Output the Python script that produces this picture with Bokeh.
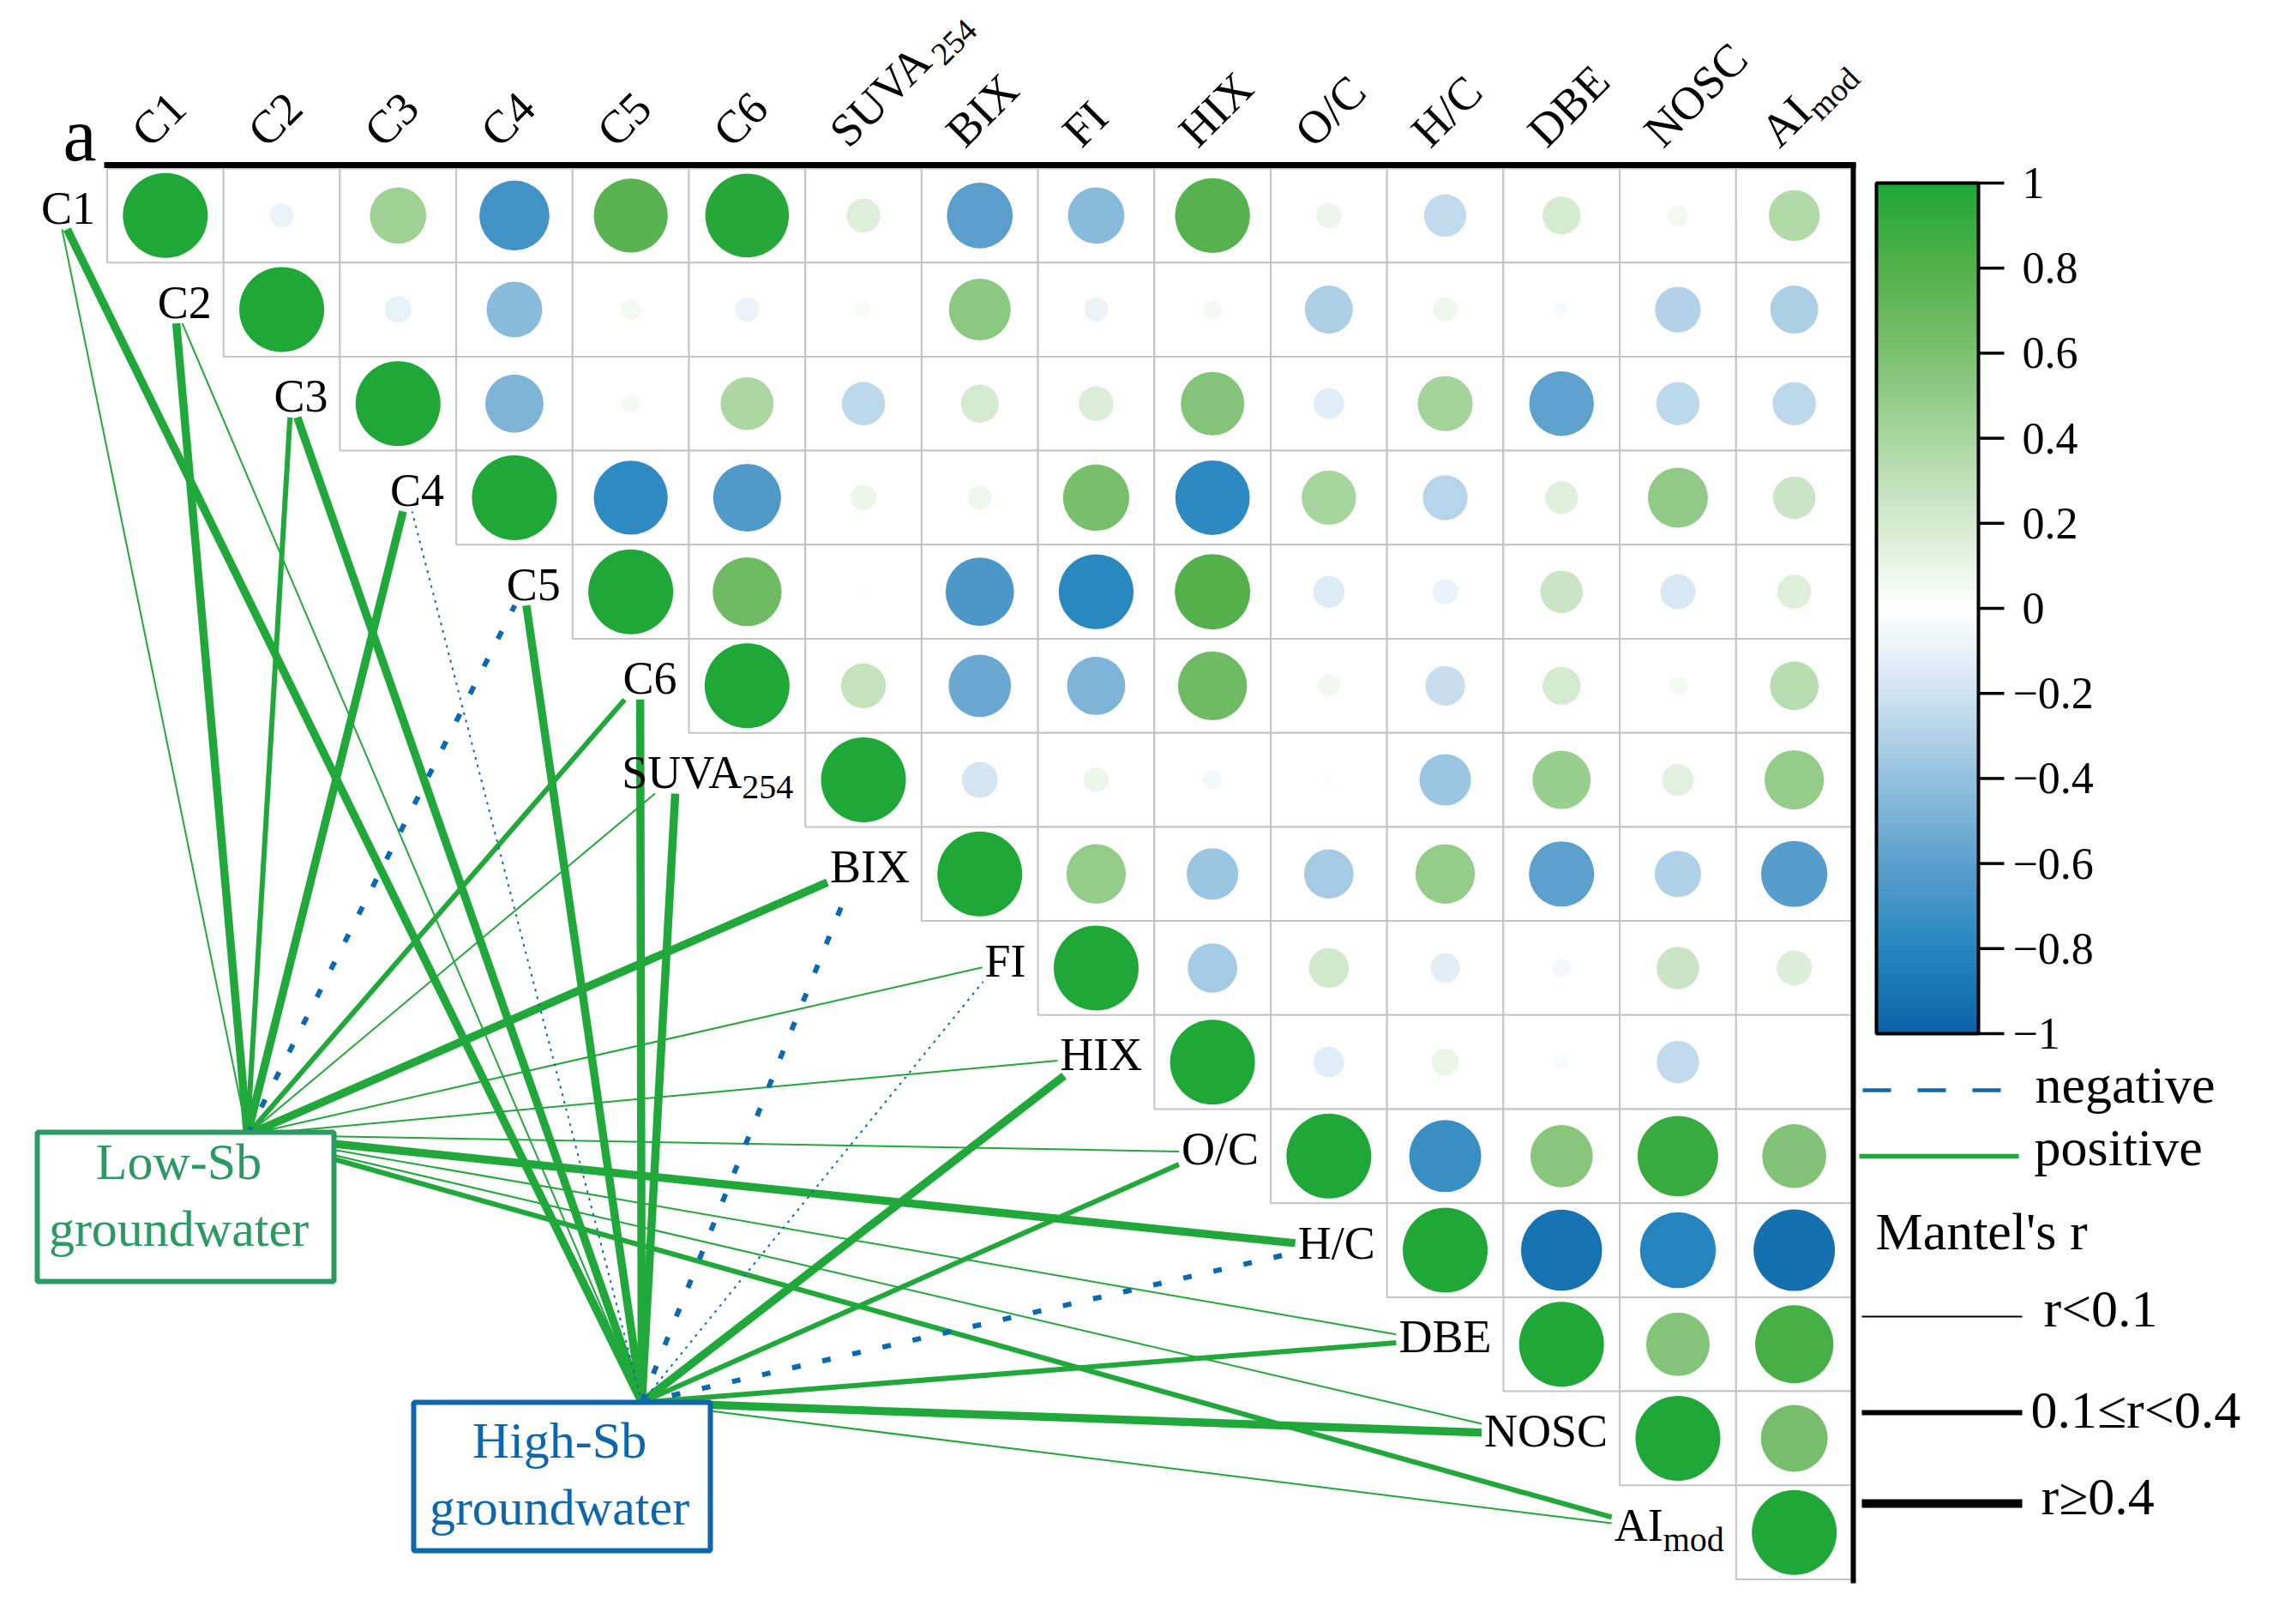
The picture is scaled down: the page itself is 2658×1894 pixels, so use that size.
import math
import numpy as np
from bokeh.plotting import figure
from bokeh.models import Range1d, ColumnDataSource, LinearColorMapper
from bokeh.embed import file_html
from bokeh.resources import INLINE
from bokeh.core.properties import value

# ---------------- data ----------------
variables = ["C1", "C2", "C3", "C4", "C5", "C6", "SUVA", "BIX", "FI", "HIX",
             "O/C", "H/C", "DBE", "NOSC", "AI"]
subscripts = ["", "", "", "", "", "", "254", "", "", "", "", "", "", "", "mod"]

# upper triangle of the correlation matrix, row by row (from the diagonal to AImod)
r_C1 = [1.00, -0.08, 0.44, -0.68, 0.76, 0.97, 0.16, -0.60, -0.44, 0.78, 0.09, -0.25, 0.20, 0.06, 0.36]
r_C2 = [1.00, -0.10, -0.43, 0.06, -0.08, 0.04, 0.53, -0.08, 0.05, -0.32, 0.08, -0.03, -0.29, -0.32]
r_C3 = [1.00, -0.47, 0.05, 0.39, -0.26, 0.20, 0.17, 0.56, -0.13, 0.42, -0.58, -0.26, -0.26]
r_C4 = [1.00, -0.76, -0.64, 0.09, 0.08, 0.61, -0.77, 0.41, -0.28, 0.15, 0.50, 0.25]
r_C5 = [1.00, 0.66, 0.01, -0.65, -0.78, 0.79, -0.14, -0.09, 0.25, -0.17, 0.16]
r_C6 = [1.00, 0.28, -0.54, -0.47, 0.66, 0.07, -0.22, 0.20, 0.05, 0.33]
r_SUVA = [1.00, -0.18, 0.09, -0.05, -0.02, -0.37, 0.47, 0.14, 0.49]
r_BIX = [1.00, 0.49, -0.37, -0.34, 0.49, -0.59, -0.30, -0.61]
r_FI = [1.00, -0.34, 0.22, -0.12, -0.05, 0.25, 0.17]
r_HIX = [1.00, -0.13, 0.10, -0.03, -0.25, 0.005]
r_OC = [1.00, -0.72, 0.54, 0.90, 0.57]
r_HC = [1.00, -0.91, -0.80, -0.92]
r_DBE = [1.00, 0.56, 0.85]
r_NOSC = [1.00, 0.62]
r_AI = [1.00]

# Mantel's r of each variable with the two groundwater groups
mantel_low = [0.06, 0.48, 0.28, 0.45, -0.25, 0.31, 0.05, 0.52, 0.04, 0.07, 0.06, 0.58, 0.05, 0.08, 0.33]
mantel_high = [0.46, 0.05, 0.47, -0.04, 0.44, 0.49, 0.50, -0.30, -0.03, 0.46, 0.33, -0.32, 0.35, 0.42, 0.06]

cbar_ticks = [1.0, 0.8, 0.6, 0.4, 0.2, 0.0, -0.2, -0.4, -0.6, -0.8, -1.0]
cbar_labels = ["1", "0.8", "0.6", "0.4", "0.2", "0", "\u22120.2", "\u22120.4", "\u22120.6", "\u22120.8", "\u22121"]
group_names = [("Low-Sb", "groundwater"), ("High-Sb", "groundwater")]
sign_names = ["negative", "positive"]
class_names = ["r<0.1", "0.1\u2264r<0.4", "r\u22650.4"]

rows = [r_C1, r_C2, r_C3, r_C4, r_C5, r_C6, r_SUVA, r_BIX, r_FI, r_HIX, r_OC, r_HC, r_DBE, r_NOSC, r_AI]

# ---------------- styling / layout ----------------
W, H = 2650, 1890
CW, RH = 135.7, 109.7        # cell size in px
GX0, GY0 = 124.5, 196.0      # grid origin (page px)
FONT = "Liberation Serif"
GREEN = "#21a83a"
BLUE = "#0c69ad"
LOW_C = "#2a9a62"
HIGH_C = "#0d67ad"
GRID_C = "#c4c4c4"
MID = 0.34                   # baseline -> middle shift, in em

def px_x(X):
    return (X - GX0) / CW

def px_y(Y):
    return (Y - GY0) / RH

stop_v = [-1.0, -0.8, -0.6, -0.4, -0.2, 0.0, 0.2, 0.4, 0.6, 0.8, 1.0]
stop_c = ["#0b62a5", "#2586bf", "#5a9fcc", "#93c1df", "#cfe2f1", "#ffffff",
          "#d5ebd0", "#a9d6a0", "#7bc06f", "#52b04a", "#1fa737"]

def hex2rgb(h):
    return [int(h[k:k + 2], 16) for k in (1, 3, 5)]

stop_rgb = np.array([hex2rgb(c) for c in stop_c], dtype=float)

def interp_color(v):
    rgb = [np.interp(v, stop_v, stop_rgb[:, k]) for k in range(3)]
    return "#%02x%02x%02x" % tuple(int(round(c)) for c in rgb)

palette = [interp_color(t) for t in np.linspace(-1, 1, 256)]
mapper = LinearColorMapper(palette=palette, low=-1, high=1)

ADV = {'C': 667, '1': 500, '2': 500, '3': 500, '4': 500, '5': 500, '6': 500,
       'S': 556, 'U': 722, 'V': 722, 'A': 722, 'B': 667, 'I': 333, 'X': 722,
       'F': 556, 'H': 722, 'O': 722, '/': 278, 'D': 722, 'E': 611, 'N': 722,
       'm': 778, 'o': 500, 'd': 500}

def tw(s, fs):
    return sum(ADV.get(c, 500) for c in s) * fs / 1000.0

FS_ROW, FS_SUB, FS_COL, FS_COLSUB = 54, 40, 54, 38

p = figure(width=W, height=H,
           x_range=Range1d(px_x(0), px_x(W)),
           y_range=Range1d(px_y(H), px_y(0)),
           x_axis_location=None, y_axis_location=None,
           output_backend="svg", toolbar_location=None, min_border=0)
p.outline_line_color = None
p.grid.visible = False
p.background_fill_color = "white"

def put_text(xs, ys_base, texts, fs, align="left", color="black", angle=0.0):
    """Place text whose alphabetic baseline is at ys_base (page px), using a middle anchor."""
    a = math.radians(angle)
    ux, uy = -math.sin(a), -math.cos(a)   # screen 'up' direction of the rotated text
    sx = [x + MID * fs * ux for x in xs]
    sy = [y + MID * fs * uy for y in ys_base]
    p.text(x=[px_x(v) for v in sx], y=[px_y(v) for v in sy], text=list(texts),
           angle=angle, angle_units="deg", text_font=value(FONT),
           text_font_size="%dpx" % fs, text_align=align, text_baseline="middle",
           text_color=color)

n = len(variables)

# ---------------- Mantel links ----------------
LOW_ANCHOR = (288.0, 1323.0)
HIGH_ANCHOR = (748.0, 1635.0)

def label_box(i):
    right = GX0 + i * CW - 14
    base = GY0 + (i + 0.5) * RH + 10
    w = tw(variables[i], FS_ROW) + tw(subscripts[i], FS_SUB)
    return right - w - 3, right, base - 0.66 * FS_ROW, base + 6

def endpoint(i, anchor):
    x0, x1, y0, y1 = label_box(i)
    cx = x0 + 0.35 * (x1 - x0)
    cy = 0.5 * (y0 + y1)
    dxv, dyv = anchor[0] - cx, anchor[1] - cy
    ts = []
    if dxv != 0:
        ts.append(((x0 if dxv < 0 else x1) - cx) / dxv)
    if dyv != 0:
        ts.append(((y1 if dyv > 0 else y0) - cy) / dyv)
    t = min(tt for tt in ts if tt > 0)
    return cx + t * dxv, cy + t * dyv

def mantel_class(r):
    a = abs(r)
    return 0 if a < 0.1 else (1 if a < 0.4 else 2)

LINK_W = [2.0, 6.0, 9.5]
groups = {}
for i in range(n):
    for anchor, r in ((LOW_ANCHOR, mantel_low[i]), (HIGH_ANCHOR, mantel_high[i])):
        ex, ey = endpoint(i, anchor)
        key = (r > 0, mantel_class(r))
        g = groups.setdefault(key, dict(x0=[], y0=[], x1=[], y1=[]))
        g["x0"].append(px_x(anchor[0])); g["y0"].append(px_y(anchor[1]))
        g["x1"].append(px_x(ex)); g["y1"].append(px_y(ey))

for (pos, cat), g in groups.items():
    if pos:
        dash = "solid"
    else:
        dash = "3 6" if cat == 0 else "10 26"
    p.segment(x0="x0", y0="y0", x1="x1", y1="y1", source=ColumnDataSource(g),
              line_color=GREEN if pos else BLUE, line_width=LINK_W[cat], line_dash=dash)

# ---------------- group boxes ----------------
boxes = [(43, 389, 1320, 1494, LOW_C, 208, 1375, 1453),
         (482, 828, 1635, 1808, HIGH_C, 652, 1700, 1778)]
for (names, (l, r_, t, b, col, tx, b1, b2)) in zip(group_names, boxes):
    p.quad(left=[px_x(l)], right=[px_x(r_)], top=[px_y(t)], bottom=[px_y(b)],
           fill_color="white", line_color=col, line_width=6)
    put_text([tx, tx], [b1, b2], names, 60, align="center", color=col)

# ---------------- correlation matrix ----------------
cx, cy, cr = [], [], []
for i, row in enumerate(rows):
    for k, v in enumerate(row):
        cx.append(i + k + 0.5)
        cy.append(i + 0.5)
        cr.append(v)
cells = ColumnDataSource(dict(x=cx, y=cy, r=cr,
                              size=[99.0 * math.sqrt(abs(v)) for v in cr]))
p.rect(x="x", y="y", width=1, height=1, source=cells,
       fill_color="white", line_color=GRID_C, line_width=2)
p.scatter(x="x", y="y", size="size", source=cells, marker="circle",
          fill_color={"field": "r", "transform": mapper}, line_color=None)

# frame lines
p.segment(x0=[px_x(121)], y0=[px_y(192)], x1=[px_x(2164)], y1=[px_y(192)],
          line_color="black", line_width=7)
p.segment(x0=[px_x(2161)], y0=[px_y(189)], x1=[px_x(2161)], y1=[px_y(1846)],
          line_color="black", line_width=6)

# ---------------- row labels ----------------
rl_x, rl_y, rl_t, rs_x, rs_y, rs_t = [], [], [], [], [], []
for i in range(n):
    right = GX0 + i * CW - 14
    base = GY0 + (i + 0.5) * RH + 10
    wsub = tw(subscripts[i], FS_SUB)
    rl_x.append(right - wsub); rl_y.append(base); rl_t.append(variables[i])
    if subscripts[i]:
        rs_x.append(right - wsub); rs_y.append(base + 12); rs_t.append(subscripts[i])
put_text(rl_x, rl_y, rl_t, FS_ROW, align="right")
put_text(rs_x, rs_y, rs_t, FS_SUB, align="left")

# ---------------- column labels (rotated) ----------------
c45 = math.cos(math.radians(45))
cl_x, cl_y, cl_t, cs_x, cs_y, cs_t = [], [], [], [], [], []
for j in range(n):
    ax = GX0 + (j + 0.5) * CW - 17
    ay = 174.0
    cl_x.append(ax); cl_y.append(ay); cl_t.append(variables[j])
    if subscripts[j]:
        wm = tw(variables[j], FS_COL)
        drop = 11
        cs_x.append(ax + wm * c45 + drop * c45)
        cs_y.append(ay - wm * c45 + drop * c45)
        cs_t.append(subscripts[j])
put_text(cl_x, cl_y, cl_t, FS_COL, angle=45)
put_text(cs_x, cs_y, cs_t, FS_COLSUB, angle=45)

put_text([73], [187], ["a"], 88)

# ---------------- colour bar ----------------
CB_L, CB_R, CB_T, CB_B = 2188.0, 2307.0, 213.0, 1205.0

def cb_y(v):
    return CB_T + (1.0 - v) / 2.0 * (CB_B - CB_T)

nseg = 200
edges = np.linspace(-1, 1, nseg + 1)
mids = 0.5 * (edges[:-1] + edges[1:])
seg_cols = [interp_color(v) for v in mids]
p.quad(left=[px_x(CB_L)] * nseg, right=[px_x(CB_R)] * nseg,
       top=[px_y(cb_y(v)) for v in edges[1:]], bottom=[px_y(cb_y(v)) for v in edges[:-1]],
       fill_color=seg_cols, line_color=seg_cols, line_width=1)
p.quad(left=[px_x(CB_L)], right=[px_x(CB_R)], top=[px_y(CB_T)], bottom=[px_y(CB_B)],
       fill_color=None, line_color="black", line_width=4)
p.segment(x0=[px_x(CB_R)] * len(cbar_ticks), x1=[px_x(CB_R + 30)] * len(cbar_ticks),
          y0=[px_y(cb_y(v)) for v in cbar_ticks], y1=[px_y(cb_y(v)) for v in cbar_ticks],
          line_color="black", line_width=3.5)
p.text(x=[px_x(2358 if v >= 0 else 2347) for v in cbar_ticks],
       y=[px_y(cb_y(v)) for v in cbar_ticks], text=cbar_labels,
       text_font=value(FONT), text_font_size="52px", text_align="left",
       text_baseline="middle", text_color="black")

# ---------------- legend ----------------
p.segment(x0=[px_x(2172)], y0=[px_y(1271)], x1=[px_x(2340)], y1=[px_y(1271)],
          line_color=BLUE, line_width=4.5, line_dash="33 31")
p.segment(x0=[px_x(2168)], y0=[px_y(1348)], x1=[px_x(2354)], y1=[px_y(1348)],
          line_color=GREEN, line_width=5.5)
put_text([2373, 2372], [1286, 1359], sign_names, 62)
put_text([2187], [1457], ["Mantel's r"], 62)
LEG_W = [2, 6, 10]
leg_y = [1535, 1647, 1753]
leg_tx = [2383, 2368, 2380]
leg_tb = [1547, 1665, 1766]
for k in range(3):
    p.segment(x0=[px_x(2171)], y0=[px_y(leg_y[k])], x1=[px_x(2358)], y1=[px_y(leg_y[k])],
              line_color="black", line_width=LEG_W[k])
put_text(leg_tx, leg_tb, class_names, 62)

open("out.html", "w").write(file_html(p, INLINE))
